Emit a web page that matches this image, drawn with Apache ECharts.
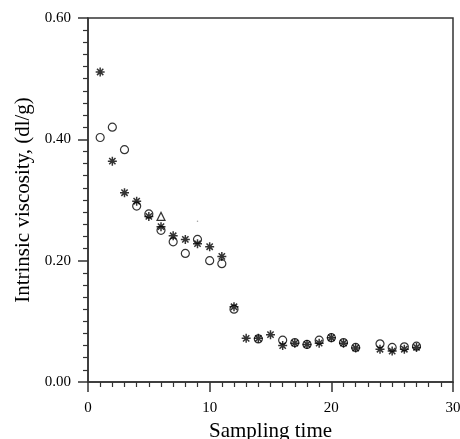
<!DOCTYPE html>
<html><head><meta charset="utf-8">
<script src="https://cdn.jsdelivr.net/npm/echarts@6/dist/echarts.min.js"></script>
<style>html,body{margin:0;padding:0;background:#fff}#c{width:460px;height:439px}</style>
</head><body><div id="c"></div>
<script>
const xTicks = [0, 10, 20, 30];
const yTicks = [0.0, 0.2, 0.4, 0.6];
const asteriskT = [1,2,3,4,5,6,7,8,9,10,11,12,13,14,15,16,17,18,19,20,21,22,24,25,26,27];
const asteriskV = [0.511,0.364,0.312,0.298,0.273,0.256,0.241,0.235,0.228,0.223,0.207,0.124,0.072,0.072,0.078,0.060,0.064,0.062,0.064,0.073,0.064,0.056,0.054,0.051,0.054,0.057];
const circleT = [1,2,3,4,5,6,7,8,9,10,11,12,14,16,17,18,19,20,21,22,24,25,26,27];
const circleV = [0.403,0.420,0.383,0.290,0.277,0.250,0.231,0.212,0.235,0.200,0.195,0.120,0.071,0.069,0.065,0.062,0.069,0.073,0.065,0.057,0.063,0.057,0.058,0.059];
const triangleT = [6];
const triangleV = [0.273];
const dotT = [9];
const dotV = [0.265];

const zip = (a, b) => a.map((t, i) => [t, b[i]]);
const font = 'Liberation Serif';
const axisCol = '#333';
const asteriskPath = 'path://M5,0 L5,10 M0,5 L10,5 M1.5,1.5 L8.5,8.5 M8.5,1.5 L1.5,8.5';

const chart = echarts.init(document.getElementById('c'), null, {renderer: 'canvas'});
chart.setOption({
  animation: false,
  backgroundColor: '#fff',
  grid: {left: 88, right: 7, top: 18, bottom: 57, containLabel: false, outerBoundsMode: 'none',
         show: true, borderColor: axisCol, borderWidth: 1.5, backgroundColor: 'transparent'},
  xAxis: {
    type: 'value', min: xTicks[0], max: xTicks[xTicks.length-1], interval: 10,
    name: 'Sampling time', nameLocation: 'middle', nameGap: 37,
    nameTextStyle: {fontFamily: font, fontSize: 21, color: '#000'},
    axisLine: {show: true, onZero: false, lineStyle: {color: axisCol, width: 1.5}},
    axisTick: {show: true, inside: false, length: 10, lineStyle: {color: axisCol, width: 1.5}},
    minorTick: {show: true, splitNumber: 10, length: 5, lineStyle: {color: axisCol, width: 1.2}},
    axisLabel: {fontFamily: font, fontSize: 15, color: '#000', margin: 19},
    splitLine: {show: false}
  },
  yAxis: {
    type: 'value', min: yTicks[0], max: yTicks[yTicks.length-1], interval: 0.2,
    name: 'Intrinsic viscosity, (dl/g)', nameLocation: 'middle', nameGap: 54,
    nameTextStyle: {fontFamily: font, fontSize: 21, color: '#000'},
    axisLine: {show: true, onZero: false, lineStyle: {color: axisCol, width: 1.5}},
    axisTick: {show: true, inside: false, length: 10, lineStyle: {color: axisCol, width: 1.5}},
    minorTick: {show: true, splitNumber: 10, length: 5, lineStyle: {color: axisCol, width: 1.2}},
    axisLabel: {fontFamily: font, fontSize: 15, color: '#000', margin: 17, formatter: v => v.toFixed(2)},
    splitLine: {show: false}
  },
  series: [
    {type: 'scatter', data: zip(circleT, circleV), symbol: 'circle', symbolSize: 8,
     itemStyle: {color: '#fff', borderColor: '#000', borderWidth: 1.2}},
    {type: 'scatter', data: zip(asteriskT, asteriskV), symbol: asteriskPath, symbolSize: 9,
     itemStyle: {color: 'transparent', borderColor: '#000', borderWidth: 1.5}},
    {type: 'scatter', data: zip(triangleT, triangleV), symbol: 'triangle', symbolSize: 8,
     itemStyle: {color: '#fff', borderColor: '#000', borderWidth: 1.2}},
    {type: 'scatter', data: zip(dotT, dotV), symbol: 'circle', symbolSize: 1.5,
     itemStyle: {color: '#888'}}
  ]
});
</script></body></html>
